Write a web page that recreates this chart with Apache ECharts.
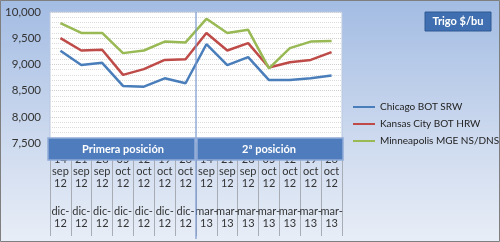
<!DOCTYPE html>
<html>
<head>
<meta charset="utf-8">
<script src="https://cdn.jsdelivr.net/npm/echarts@6/dist/echarts.min.js"></script>
<style>
html,body{margin:0;padding:0;}
#c{width:500px;height:242px;}
</style>
</head>
<body>
<div id="c"></div>
<script>
const dates = ['14 sep 12','21 sep 12','28 sep 12','05 oct 12','12 oct 12','19 oct 12','26 oct 12',
               '14 sep 12','21 sep 12','28 sep 12','05 oct 12','12 oct 12','19 oct 12','26 oct 12'];
const contracts = ['dic-12','dic-12','dic-12','dic-12','dic-12','dic-12','dic-12',
                   'mar-13','mar-13','mar-13','mar-13','mar-13','mar-13','mar-13'];
const groupLabels = ['Primera posición','2ª posición'];
const seriesNames = ['Chicago BOT SRW','Kansas City BOT HRW','Minneapolis MGE NS/DNS'];
const chicago = [9260,8990,9030,8590,8575,8735,8640,9385,8985,9140,8700,8700,8735,8790];
const kansas = [9500,9265,9280,8800,8910,9085,9100,9600,9265,9405,8940,9040,9085,9235];
const minneapolis = [9790,9600,9600,9215,9265,9435,9420,9870,9600,9660,8925,9310,9435,9445];
const yTicks = {min:7500,max:10000,interval:500};
const titleText = 'Trigo $/bu';

const colors = ['#4a7ebb','#be4b48','#98b954'];
const font = 'Lato, "Open Sans", sans-serif';
const chart = echarts.init(document.getElementById('c'));
const cats = dates.map((d,i)=>d+'|'+contracts[i]);
const dataSets = [chicago,kansas,minneapolis];

chart.setOption({
  animation:false,
  backgroundColor:{type:'linear',x:0,y:0,x2:0,y2:1,colorStops:[{offset:0,color:'#a3bce3'},{offset:0.5,color:'#c8d6ed'},{offset:1,color:'#e8eef7'}]},
  grid:{left:50,right:158,top:12,bottom:99,show:true,backgroundColor:'#ffffff',borderColor:'#b9c8e0',borderWidth:1},
  legend:{orient:'vertical',left:348,top:97,itemWidth:22,itemHeight:2,itemGap:7,icon:'rect',
    textStyle:{fontFamily:font,fontSize:10,color:'#222'},data:seriesNames},
  xAxis:{type:'category',data:cats,boundaryGap:true,
    axisLine:{lineStyle:{color:'#9aa8bc'}},
    axisTick:{show:true,length:93,lineStyle:{color:'#a8acb4'}},
    axisLabel:{interval:0,margin:10,fontFamily:font,fontSize:11,color:'#333',
      formatter:function(v){const p=v.split('|');const d=p[0].split(' ');const c=p[1].split('-');
        return '{a|'+d[0]+'}\n{a|'+d[1]+'}\n{a|'+d[2]+'}\n{g| }\n{a|'+c[0]+'-}\n{a|'+c[1]+'}';},
      rich:{a:{fontFamily:font,fontSize:11,color:'#333',lineHeight:12},g:{fontSize:11,lineHeight:16}}},
    splitLine:{show:false}},
  yAxis:{type:'value',min:yTicks.min,max:yTicks.max,interval:yTicks.interval,
    axisLine:{show:false},axisTick:{show:false},
    axisLabel:{margin:9,fontFamily:font,fontSize:11.5,color:'#333',
      formatter:function(v){return v.toLocaleString('en-US');}},
    splitLine:{lineStyle:{color:'#cfcfcf',type:'dotted'}},
    minorTick:{show:false,splitNumber:5},
    minorSplitLine:{show:true,lineStyle:{color:'#dcdcdc',type:'dotted'}}},
  series:seriesNames.map((n,i)=>({name:n,type:'line',data:dataSets[i],symbol:'none',
    lineStyle:{width:2.5,color:colors[i]},itemStyle:{color:colors[i]}}))
});

function px(i){return chart.convertToPixel({xAxisIndex:0},cats[i]);}
const step = px(1)-px(0);
const sepX = (px(6)+px(7))/2;
const x0 = px(0)-step/2, x1 = px(13)+step/2;
const boxY = 138, boxH = 22;
chart.setOption({graphic:[
  {type:'rect',shape:{x:0.5,y:0.5,width:499,height:241},style:{fill:null,stroke:'#7f7f7f',lineWidth:1},z:100},
  {type:'line',shape:{x1:sepX,y1:12,x2:sepX,y2:239},style:{stroke:'#7a98cf',lineWidth:1.2},z:50},
  {type:'rect',shape:{x:x0-2,y:boxY,width:sepX-x0+1,height:boxH},style:{fill:'#4f7cbc',stroke:'#90acd8',lineWidth:1.5},z:60},
  {type:'text',x:(x0+sepX)/2,y:boxY+boxH/2,style:{text:groupLabels[0],fill:'#fff',font:'bold 11px '+font,align:'center',verticalAlign:'middle'},z:61},
  {type:'rect',shape:{x:sepX+1,y:boxY,width:x1-sepX,height:boxH},style:{fill:'#4f7cbc',stroke:'#90acd8',lineWidth:1.5},z:60},
  {type:'text',x:(sepX+x1)/2,y:boxY+boxH/2,style:{text:groupLabels[1],fill:'#fff',font:'bold 11px '+font,align:'center',verticalAlign:'middle'},z:61},
  {type:'rect',shape:{x:425,y:12,width:66,height:19},style:{fill:'#3f6fb0',stroke:'#2f5a94',lineWidth:1},z:60},
  {type:'text',x:458,y:21.5,style:{text:titleText,fill:'#fff',font:'bold 11px '+font,align:'center',verticalAlign:'middle'},z:61}
]});
</script>
</body>
</html>
